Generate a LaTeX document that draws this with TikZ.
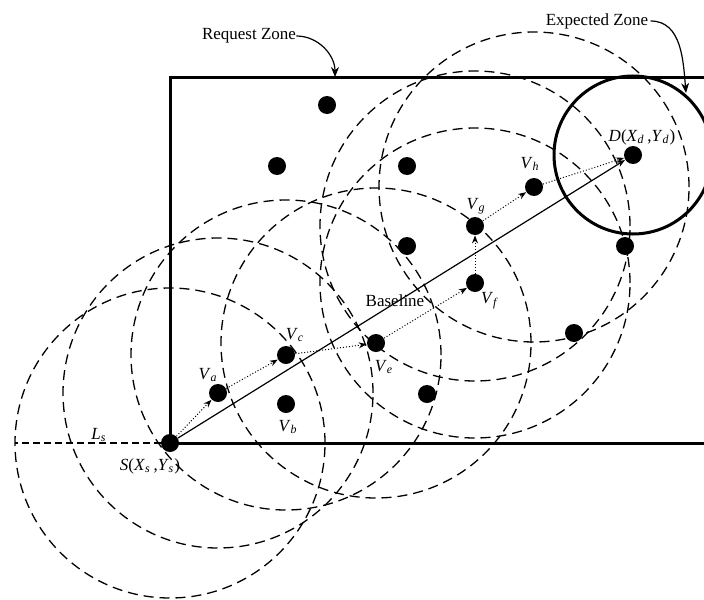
\documentclass[tikz,border=0pt]{standalone}
\usepackage{fontspec}
\setmainfont{Liberation Serif}
\usetikzlibrary{arrows.meta,positioning}
\newcommand{\vsub}[2]{\textit{#1}\textsubscript{\textit{#2}}}

\begin{document}
\begin{tikzpicture}[x=0.5pt,y=-0.5pt,
    every node/.style={font=\fontsize{8.5}{10}\selectfont},
    host/.style={circle,fill=black,inner sep=0pt,minimum size=9pt},
    lbl/.style={inner sep=0pt},
    txrange/.style={dash pattern=on 5pt off 3pt,line width=0.65pt},
    hop/.style={-{Stealth[length=4pt,width=3pt]},densely dotted,line width=0.5pt},
    base/.style={-{Stealth[length=4pt,width=3pt]},line width=0.6pt},
    zone/.style={line width=1.5pt},
    callout/.style={-{Stealth[length=5pt,width=4pt]},line width=0.6pt}]

    \useasboundingbox (0,0) rectangle (704,599);

    % request zone
    \draw[zone] (710,77) -- (170,77) -- (170,443) -- (710,443);

    % hosts
    \node[host] (S)  at (170,443) {};
    \node[host] (Va) at (218,393) {};
    \node[host] (Vb) at (286,404) {};
    \node[host] (Vc) at (286,355) {};
    \node[host] (Ve) at (376,343) {};
    \node[host] (Vf) at (475,283) {};
    \node[host] (Vg) at (475,226) {};
    \node[host] (Vh) at (534,187) {};
    \node[host] (D)  at (633,155) {};
    \node[host] (n1) at (327,105) {};
    \node[host] (n2) at (277,166) {};
    \node[host] (n3) at (407,166) {};
    \node[host] (n4) at (407,246) {};
    \node[host] (n5) at (625,246) {};
    \node[host] (n6) at (574,333) {};
    \node[host] (n7) at (427,394) {};

    % transmission ranges
    \foreach \v in {S,Va,Vc,Ve,Vf,Vg,Vh}
      \draw[txrange] (\v.center) circle[radius=77.5pt];

    % expected zone
    \draw[zone] (D.center) circle[radius=39.5pt];

    \coordinate (Lend) at (15,443);
    \draw[dash pattern=on 3.5pt off 2pt,line width=0.6pt] (S) -- (Lend);

    \draw[base] (S) -- (D);
    \foreach \from/\to in {S/Va,Va/Vc,Vc/Ve,Ve/Vf,Vf/Vg,Vg/Vh,Vh/D}
      \draw[hop] (\from) -- (\to);

    % labels
    \node[lbl] (lS)  at (150,466) {\textit{S}(\vsub{X}{s}\,,\vsub{Y}{s})};
    \node[lbl] (lD)  at (642,137) {\textit{D}(\vsub{X}{d}\,,\vsub{Y}{d})};
    \node[lbl] (lLs) at (99,435)  {\vsub{L}{s}};
    \node[lbl] (lVa) at (208,375) {\vsub{V}{a}};
    \node[lbl] (lVb) at (288,427) {\vsub{V}{b}};
    \node[lbl] (lVc) at (295,335) {\vsub{V}{c}};
    \node[lbl] (lVe) at (384,367) {\vsub{V}{e}};
    \node[lbl] (lVf) at (490,301) {\vsub{V}{f}};
    \node[lbl] (lVg) at (476,206) {\vsub{V}{g}};
    \node[lbl] (lVh) at (530,164) {\vsub{V}{h}};
    \node[lbl] (bl)  at (395,301) {Baseline};

    % callouts
    \node[lbl] (rz) at (249,36) {Request Zone};
    \coordinate (rzTip) at (335,77);
    \draw[callout] (rz.east) to[out=0,in=90] (rzTip);

    \node[lbl] (ez) at (597,21) {Expected Zone};
    \coordinate (ezTip) at (686,93);
    \draw[callout] ([xshift=1pt]ez.east) to[out=0,in=95] (ezTip);
\end{tikzpicture}
\end{document}
